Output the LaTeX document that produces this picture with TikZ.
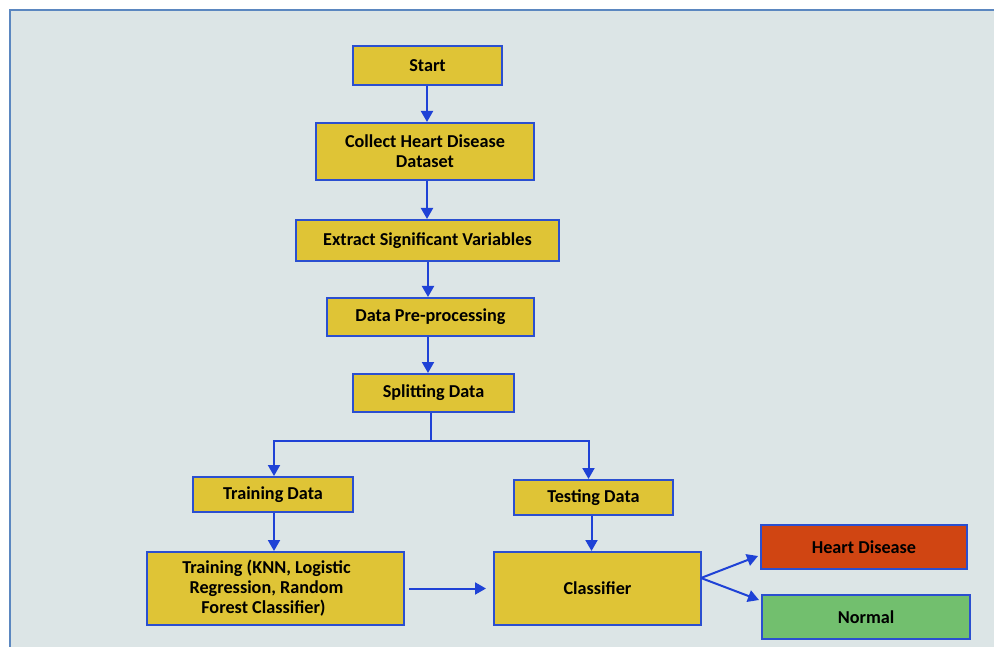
\documentclass[tikz,border=0pt]{standalone}
\usepackage{fontspec}
\setmainfont{Carlito}
\usetikzlibrary{arrows.meta}

\definecolor{panel}{HTML}{DCE5E6}
\definecolor{frameblue}{HTML}{5B87C0}
\definecolor{boxyellow}{HTML}{DFC436}
\definecolor{edgeblue}{HTML}{2B4FD0}
\definecolor{lineblue}{HTML}{1F42D6}
\definecolor{diseasered}{HTML}{D04512}
\definecolor{normalgreen}{HTML}{72BF6E}

\begin{document}
\begin{tikzpicture}[x=1pt,y=-1pt,>={Triangle[length=11pt,width=12pt]},
    stepbox/.style={draw=edgeblue,line width=2pt,fill=boxyellow,font=\bfseries\fontsize{18.2}{20}\selectfont,align=center,inner sep=0pt},
    link/.style={->,draw=lineblue,line width=2pt}]
            \useasboundingbox (0,0) rectangle (994,647);
            \fill[white] (0,0) rectangle (994,647);
            \draw[frameblue,line width=2.4pt,fill=panel] (10,10) -- (10,660) -- (1000,660) -- (1000,10) -- cycle;
            % main column
            \node[stepbox,minimum width=149pt,minimum height=39pt] (start) at (427.5,65.5) {Start};
            \node[stepbox,minimum width=218pt,minimum height=57pt] (collect) at (425,151.5) {Collect Heart Disease\\Dataset};
            \node[stepbox,minimum width=263pt,minimum height=41pt] (extract) at (427.5,240.5) {Extract Significant Variables};
            \node[stepbox,minimum width=207pt,minimum height=38pt] (prep) at (430.5,317) {Data Pre-processing};
            \node[stepbox,minimum width=161pt,minimum height=38pt] (split) at (433.5,393) {Splitting Data};
            % the two branches
            \node[stepbox,minimum width=160pt,minimum height=35pt] (traindata) at (273,494.5) {Training Data};
            \node[stepbox,minimum width=159pt,minimum height=35pt] (testdata) at (593.5,497.5) {Testing Data};
            \node[stepbox,minimum width=257pt,minimum height=73pt] (train) at (275.5,588.5) {\hspace*{-18pt}Training (KNN, Logistic\\\hspace*{-18pt}Regression, Random\\\hspace*{-24pt}Forest Classifier)};
            \node[stepbox,minimum width=207pt,minimum height=73pt] (clf) at (597.5,588.5) {Classifier};
            % results
            \node[stepbox,fill=diseasered,minimum width=206pt,minimum height=44pt] (disease) at (864,547) {Heart Disease};
            \node[stepbox,fill=normalgreen,minimum width=208pt,minimum height=44pt] (normal) at (866,617) {Normal};
            \coordinate (fork) at (431,441);
            \coordinate (out) at (701,578);
            \draw[link] ([xshift=-0.5pt]start.south) -- ([xshift=-0.5pt]start.south |- collect.north);
            \draw[link] ([xshift=2pt]collect.south) -- ([xshift=2pt]collect.south |- extract.north);
            \draw[link] ([xshift=0.5pt]extract.south) -- ([xshift=0.5pt]extract.south |- prep.north);
            \draw[link] ([xshift=-2.5pt]prep.south) -- ([xshift=-2.5pt]prep.south |- split.north);
            \draw[draw=lineblue,line width=2pt] (split.south -| fork) -- (fork);
            \draw[link] (fork) -| ([xshift=1pt]traindata.north);
            \draw[link] (fork) -| ([xshift=-5pt]testdata.north);
            \draw[link] ([xshift=1pt]traindata.south) -- ([xshift=1pt]traindata.south |- train.north);
            \draw[link] ([xshift=-2pt]testdata.south) -- ([xshift=-2pt]testdata.south |- clf.north);
            \draw[link] ([xshift=4pt]train.east) -- ([xshift=-7pt]clf.west);
            \draw[link] (out) -- ([xshift=-2pt,yshift=-9pt]disease.west);
            \draw[link] (out) -- ([xshift=-2pt,yshift=17pt]normal.west);
        \end{tikzpicture}
\end{document}
